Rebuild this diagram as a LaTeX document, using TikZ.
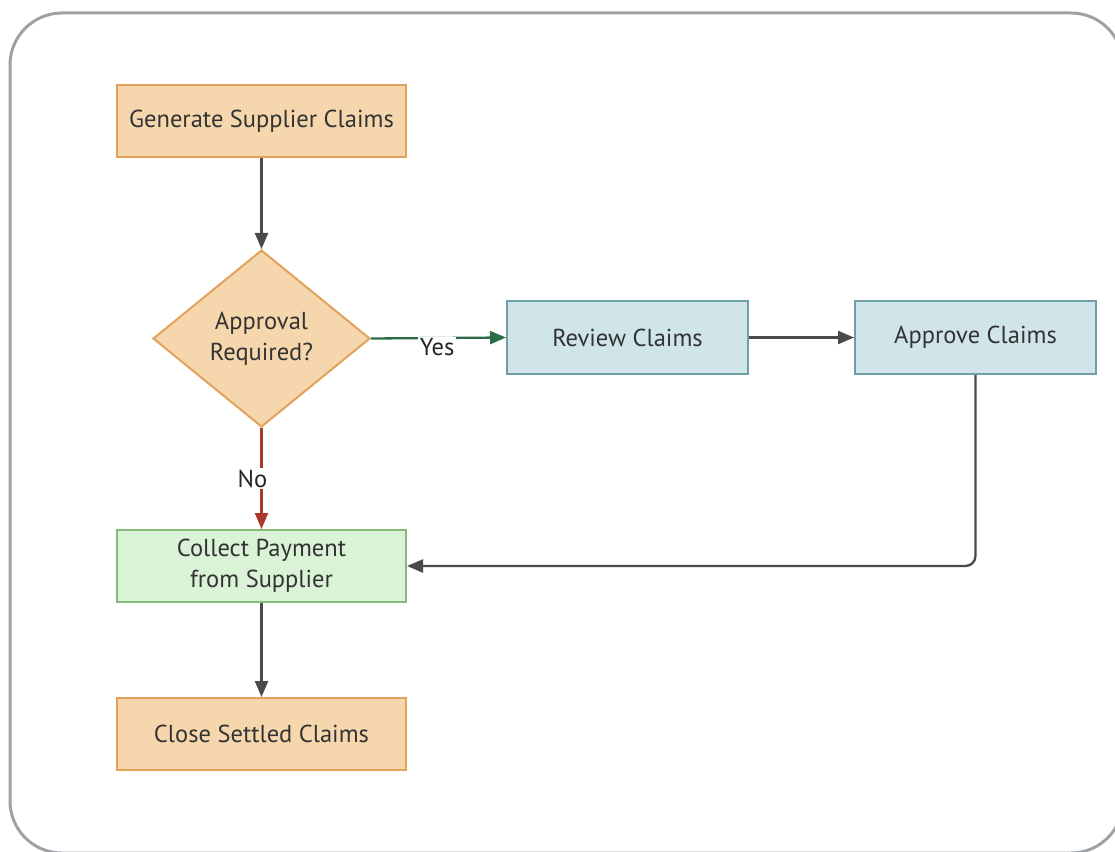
\documentclass[tikz,border=0pt]{standalone}
\usepackage{fontspec}
\setmainfont{PT Sans}
\usetikzlibrary{shapes.geometric,arrows.meta}
\definecolor{orfill}{HTML}{F5D6AD}
\definecolor{ordraw}{HTML}{E2A25C}
\definecolor{blfill}{HTML}{CFE5EA}
\definecolor{bldraw}{HTML}{6E9EA8}
\definecolor{grfill}{HTML}{DAF2D6}
\definecolor{grdraw}{HTML}{86B97A}
\definecolor{linegray}{HTML}{4A4A4A}
\definecolor{yesgreen}{HTML}{2B6B47}
\definecolor{nored}{HTML}{A8392C}
\definecolor{framegray}{HTML}{9EA2A6}
\tikzset{
  box/.style={draw, line width=2pt, minimum width=289pt, minimum height=72pt, inner sep=0pt, align=center, font=\fontsize{24.5}{31}\selectfont, text=black!80},
  orbox/.style={box, fill=orfill, draw=ordraw},
  blbox/.style={box, fill=blfill, draw=bldraw, minimum width=241pt, minimum height=73pt},
  grbox/.style={box, fill=grfill, draw=grdraw},
  decide/.style={diamond, draw=ordraw, fill=orfill, line width=2pt, minimum width=217pt, minimum height=177pt, inner sep=0pt, aspect=1.226, align=center, font=\fontsize{24.5}{31}\selectfont, text=black!80},
  conn/.style={line width=2.3pt, -{Triangle[length=16pt,width=13pt]}},
  lbl/.style={fill=white, inner sep=1.5pt, font=\fontsize{24.5}{28}\selectfont, text=black!85}
}
\begin{document}
\begin{tikzpicture}[x=1pt,y=-1pt]
\useasboundingbox (0,0) rectangle (1115,851);
\draw[framegray, line width=3pt, rounded corners=52pt] (10,13) rectangle (1123,853);
\node[orbox] (gen) at (261.5,121) {Generate Supplier Claims};
\node[decide] (dec) at (261.5,338.5) {Approval\\Required?};
\node[blbox] (rev) at (627.5,337.5) {Review Claims};
\node[blbox] (app) at (975.5,337.5) {Approve Claims};
\node[grbox] (col) at (261.5,566) {Collect Payment\\from Supplier};
\node[orbox] (clo) at (261.5,734) {Close Settled Claims};
\draw[conn, color=linegray] (gen) -- (dec);
\draw[conn, color=yesgreen] (dec.east) -- (rev.west) node[lbl, pos=0.49, yshift=-9pt] {Yes};
\draw[conn, color=nored] (dec.south) -- (col.north) node[lbl, pos=0.5, xshift=-9pt] {No};
\draw[conn, color=linegray] (rev) -- (app);
\draw[conn, color=linegray, rounded corners=10pt] (app.south) |- (col.east);
\draw[conn, color=linegray] (col) -- (clo);
\end{tikzpicture}
\end{document}
